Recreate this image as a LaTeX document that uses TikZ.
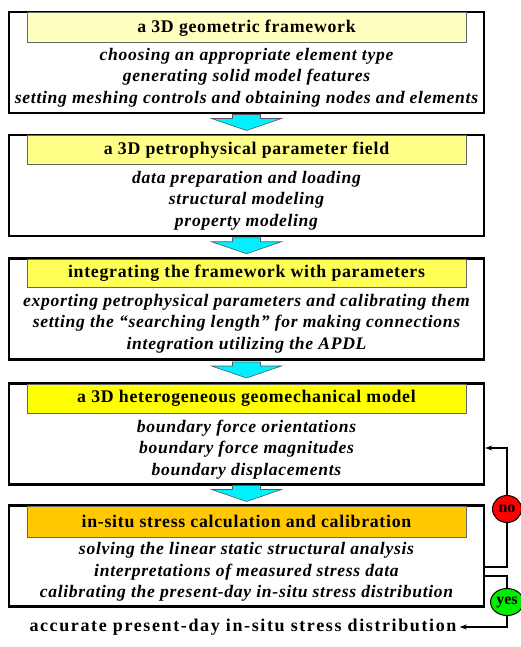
\documentclass[tikz,border=0pt]{standalone}
\usepackage{fontspec}
\setmainfont{Liberation Serif}
\newfontfamily\spaced[LetterSpace=4]{Liberation Serif}
\newfontfamily\widespaced[LetterSpace=9]{Liberation Serif}
\usetikzlibrary{calc,positioning,shapes.geometric,arrows.meta}
\definecolor{barone}{HTML}{FFFFC0}
\definecolor{bartwo}{HTML}{FFFF88}
\definecolor{barthree}{HTML}{FFFF55}
\definecolor{barfour}{HTML}{FFFF00}
\definecolor{barfive}{HTML}{FFC800}
\definecolor{flowcyan}{HTML}{00F0FF}
\definecolor{nored}{HTML}{FF0000}
\definecolor{yesgreen}{HTML}{00EE00}

\begin{document}
\begin{tikzpicture}[x=1pt,y=-1pt,
  stage/.style={draw, line width=2.5pt, minimum width=475pt, minimum height=101pt, inner sep=0pt},
  bar/.style={draw=black!60, line width=1pt, minimum width=439pt, inner sep=0pt,
    font=\spaced\bfseries\fontsize{17.8}{20}\selectfont},
  steps/.style={align=center, inner sep=0pt,
    font=\spaced\bfseries\itshape\fontsize{17.6}{21.5}\selectfont},
  flow/.style={draw=black!65, line width=0.6pt, fill=flowcyan, line join=miter},
  answer/.style={ellipse, draw, line width=1pt, inner sep=1pt, minimum width=29pt,
    minimum height=27pt, font=\bfseries\fontsize{16}{18}\selectfont},
  fb/.style={line width=1.5pt, -{Stealth[length=7pt,width=5pt]}}]
\useasboundingbox (0,0) rectangle (521,647);

% the five stages
\node[stage] (b1) at (246.5,62.5) {};
\node[stage] (b2) at (246.5,185.5) {};
\node[stage] (b3) at (246.5,309) {};
\node[stage] (b4) at (246.5,434) {};
\node[stage] (b5) at (246.5,556) {};

\node[bar, fill=barone, minimum height=30pt, below=1.5pt of b1.north] (t1)%
{a 3D geometric framework};
\node[bar, fill=bartwo, minimum height=29pt, below=1.5pt of b2.north] (t2)%
{a 3D petrophysical parameter field};
\node[bar, fill=barthree, minimum height=28pt, below=1.5pt of b3.north] (t3)%
{integrating the framework with parameters};
\node[bar, fill=barfour, minimum height=29pt, below=1.5pt of b4.north] (t4)%
{a 3D heterogeneous geomechanical model};
\node[bar, fill=barfive, minimum height=31pt, below=1.5pt of b5.north] (t5)%
{in-situ stress calculation and calibration};

\node[steps] (s1) at ($(t1.south)+(0,34.5)$)%
{choosing an appropriate element type\\generating solid model features\\%
setting meshing controls and obtaining nodes and elements};
\node[steps] (s2) at ($(t2.south)+(0,35.5)$)%
{data preparation and loading\\structural modeling\\property modeling};
\node[steps] (s3) at ($(t3.south)+(0,36)$)%
{exporting petrophysical parameters and calibrating them\\%
setting the “searching length” for making connections\\%
integration utilizing the APDL};
\node[steps] (s4) at ($(t4.south)+(0,35.5)$)%
{boundary force orientations\\boundary force magnitudes\\boundary displacements};
\node[steps] (s5) at ($(t5.south)+(0,34.5)$)%
{solving the linear static structural analysis\\%
interpretations of measured stress data\\%
calibrating the present-day in-situ stress distribution};

% block arrows between stages
\foreach \a/\b in {b1/b2,b2/b3,b3/b4,b4/b5}{
  \coordinate (\a\b) at ($(\a.south)!0.5!(\b.north)+(0,-1.5)$);
  \draw[flow] ($(\a\b)+(-14,-8)$) -- ++(28,0) -- ++(0,4) -- ++(21,0)%
    -- ($(\a\b)+(0,8)$) -- ($(\a\b)+(-35,-4)$) -- ++(21,0) -- cycle;
}

% result and the check
\node[font=\widespaced\bfseries\fontsize{18}{20}\selectfont, inner sep=3pt] (result)%
at (243,627) {accurate present-day in-situ stress distribution};
\node[answer, fill=nored] (no) at (507,509) {no};
\node[answer, fill=yesgreen] (yes) at (507,602) {yes};

\draw[line width=1.5pt] ([yshift=-11pt]b5.east) -| (no);
\draw[fb] (no) |- ([yshift=-14pt]b4.east);
\draw[line width=1.5pt] ([yshift=-20pt]b5.east) -| (yes);
\draw[fb] (yes) |- (result.east);
\end{tikzpicture}
\end{document}
